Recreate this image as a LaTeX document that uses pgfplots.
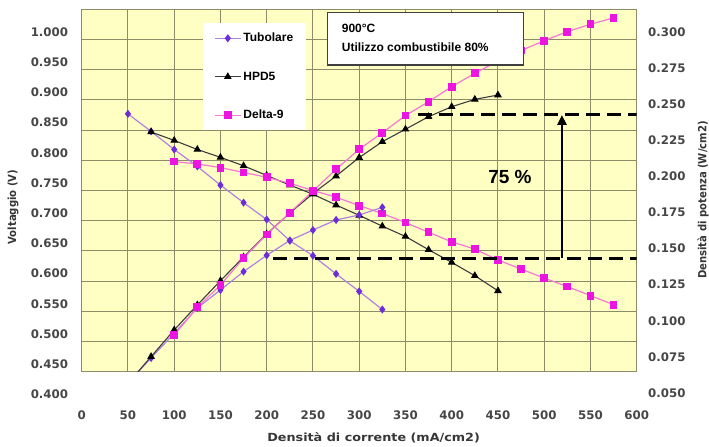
\documentclass[border=0pt]{standalone}
\usepackage{fontspec}
\setmainfont{Liberation Sans}
\newfontfamily\dejavu{DejaVu Sans}
\newfontfamily\dejavuwide{DejaVu Sans}[FakeStretch=1.14]
\newfontfamily\dejavunarrow{DejaVu Sans}[FakeStretch=0.9]
\usepackage{pgfplots}
\pgfplotsset{compat=1.18}
\usetikzlibrary{arrows.meta}
\definecolor{bgyellow}{RGB}{255,255,196}
\definecolor{gridcol}{RGB}{140,140,105}
\definecolor{tubline}{RGB}{175,130,225}
\definecolor{tubmark}{RGB}{110,45,215}
\definecolor{hpdline}{RGB}{60,60,60}
\definecolor{deltaline}{RGB}{245,120,210}
\definecolor{deltamark}{RGB}{235,20,225}
\definecolor{ticktext}{RGB}{70,70,70}
\definecolor{labtext}{RGB}{55,55,55}
\newcommand{\tickfont}{\dejavu\bfseries\fontsize{11.8bp}{14bp}\selectfont}
\newcommand{\xlabfont}{\dejavuwide\bfseries\fontsize{11.2bp}{13bp}\selectfont}
\newcommand{\ylabfont}{\dejavunarrow\bfseries\fontsize{11.2bp}{13bp}\selectfont}
\newcommand{\legfont}{\bfseries\fontsize{12bp}{14bp}\selectfont}
\pgfplotsset{
  tub/.style={color=tubline, line width=1.2bp, mark=diamond*, mark size=3.1bp, mark options={fill=tubmark, draw=tubmark, solid}},
  hpd/.style={color=hpdline, line width=1.1bp, mark=triangle*, mark size=3.4bp, mark options={fill=black, draw=black, solid}},
  delta/.style={color=deltaline, line width=1.2bp, mark=square*, mark size=3.3bp, mark options={fill=deltamark, draw=deltamark, solid}},
}
\begin{document}
\begin{tikzpicture}
\path[use as bounding box] (0,0) rectangle (709bp,447bp);
% ---------- main axis: voltage ----------
\begin{axis}[
  at={(81.7bp,75.3bp)}, anchor=south west,
  scale only axis, width=555bp, height=362.3bp,
  xmin=0, xmax=600, ymin=0.45, ymax=1.05,
  xtick={0,50,100,150,200,250,300,350,400,450,500,550,600},
  ytick={0.45,0.50,0.55,0.60,0.65,0.70,0.75,0.80,0.85,0.90,0.95,1.00,1.05},
  yticklabels={},
  grid=major,
  major grid style={draw=gridcol, line width=1bp},
  axis line style={draw=gridcol, line width=1bp},
  major tick length=0pt,
  axis background/.style={fill=bgyellow},
  /pgf/number format/assume math mode=true,
  xticklabel style={anchor=center, yshift=-43.3bp, font=\tickfont, text=ticktext},
  xlabel={Densità di corrente (mA/cm2)},
  every axis x label/.style={at={(axis description cs:0.526,-0.183)}, anchor=center, font=\xlabfont, text=labtext},
  legend cell align=left,
  legend image code/.code={\draw[mark repeat=2,mark phase=2,#1] plot coordinates {(0bp,0bp) (13bp,0bp) (26bp,0bp)};},
  legend style={at={(0.2186,0.9625)}, anchor=north west, draw=none, fill=white,
    inner xsep=11bp, inner ysep=8bp, row sep=24.5bp, font=\legfont},
]
\addplot[tub] coordinates {(50,0.877) (75,0.848) (100,0.818) (125,0.790) (150,0.759) (175,0.730) (200,0.702) (225,0.667) (250,0.642) (275,0.612) (300,0.583) (325,0.553)};
\addlegendentry{Tubolare\hspace{26bp}}
\addplot[hpd] coordinates {(75,0.847) (100,0.833) (125,0.818) (150,0.805) (175,0.791) (200,0.775) (225,0.759) (250,0.744) (275,0.726) (300,0.709) (325,0.691) (350,0.674) (375,0.652) (400,0.631) (425,0.609) (450,0.584)};
\addlegendentry{HPD5}
\addplot[delta] coordinates {(100,0.798) (125,0.794) (150,0.788) (175,0.780) (200,0.772) (225,0.762) (250,0.750) (275,0.739) (300,0.725) (325,0.712) (350,0.697) (375,0.681) (400,0.665) (425,0.653) (450,0.635) (475,0.620) (500,0.605) (525,0.591) (550,0.576) (575,0.561)};
\addlegendentry{Delta-9}
\end{axis}
% ---------- power axis ----------
\begin{axis}[
  at={(81.7bp,75.3bp)}, anchor=south west,
  scale only axis, width=555bp, height=362.3bp,
  xmin=0, xmax=600, ymin=0.070, ymax=0.3209,
  hide axis,
]
\addplot[tub] coordinates {(50,0.0622) (75,0.0795) (100,0.0966) (125,0.1141) (150,0.1266) (175,0.1393) (200,0.1506) (225,0.1609) (250,0.1681) (275,0.1751) (300,0.1785) (325,0.1838)};
\addplot[hpd] coordinates {(50,0.0619) (75,0.0804) (100,0.0989) (125,0.1162) (150,0.1330) (175,0.1494) (200,0.1654) (225,0.1799) (250,0.1934) (275,0.2055) (300,0.2183) (325,0.2293) (350,0.2379) (375,0.2466) (400,0.2535) (425,0.2586) (450,0.2616)};
\addplot[delta] coordinates {(100,0.0954) (125,0.1146) (150,0.1300) (175,0.1487) (200,0.1650) (225,0.1801) (250,0.1951) (275,0.2102) (300,0.2240) (325,0.2355) (350,0.2474) (375,0.2570) (400,0.2674) (425,0.2766) (450,0.2852) (475,0.2924) (500,0.2992) (525,0.3055) (550,0.3106) (575,0.3151)};
\draw[line width=3bp, dash pattern=on 14bp off 7bp] (axis cs:363.6,0.2478) -- (axis cs:600,0.2478);
\draw[line width=3bp, dash pattern=on 14bp off 7bp] (axis cs:206.8,0.1487) -- (axis cs:600,0.1487);
\draw[line width=2.5bp, -{Triangle[length=10bp,width=9bp]}] (axis cs:519.2,0.1487) -- (axis cs:519.2,0.2478);
\node[font=\bfseries\fontsize{19bp}{22bp}\selectfont] at (axis cs:463,0.2048) {75 \%};
\end{axis}
% ---------- left tick labels ----------
\begin{axis}[
  at={(81.7bp,52.7bp)}, anchor=south west,
  scale only axis, width=555bp, height=362.3bp,
  xmin=0, xmax=600, ymin=0.4, ymax=1.0,
  xtick=\empty,
  ytick={0.40,0.45,0.50,0.55,0.60,0.65,0.70,0.75,0.80,0.85,0.90,0.95,1.00},
  yticklabels={0.400,0.450,0.500,0.550,0.600,0.650,0.700,0.750,0.800,0.850,0.900,0.950,1.000},
  axis line style={draw=none}, major tick length=0pt,
  yticklabel style={anchor=east, inner sep=0pt, xshift=-13.4bp, font=\tickfont, text=ticktext},
  ylabel={Voltaggio (V)},
  every axis y label/.style={at={(axis description cs:-0.1238,0.517)}, anchor=center, rotate=90, font=\ylabfont, text=labtext},
]
\end{axis}
% ---------- right tick labels ----------
\begin{axis}[
  at={(81.7bp,54bp)}, anchor=south west,
  scale only axis, width=555bp, height=361bp,
  xmin=0, xmax=600, ymin=0.05, ymax=0.30,
  xtick=\empty,
  ytick={0.05,0.075,0.10,0.125,0.15,0.175,0.20,0.225,0.25,0.275,0.30},
  yticklabels={0.050,0.075,0.100,0.125,0.150,0.175,0.200,0.225,0.250,0.275,0.300},
  yticklabel pos=right,
  axis line style={draw=none}, major tick length=0pt,
  yticklabel style={anchor=west, inner sep=0pt, xshift=11.3bp, font=\tickfont, text=ticktext},
  ylabel={Densità di potenza (W/cm2)},
  every axis y label/.style={at={(axis description cs:1.1195,0.5346)}, anchor=center, rotate=90, font=\ylabfont, text=labtext},
]
\end{axis}
% ---------- annotation box ----------
\draw[draw=black!75, line width=1.6bp, fill=white] (327.3bp,382bp) rectangle (523.3bp,434.3bp);
\node[anchor=base west, font=\legfont, inner sep=0pt] at (341.7bp,414.7bp) {900°C};
\node[anchor=base west, font=\legfont, inner sep=0pt] at (341.7bp,395.3bp) {Utilizzo combustibile 80\%};
\end{tikzpicture}
\end{document}
